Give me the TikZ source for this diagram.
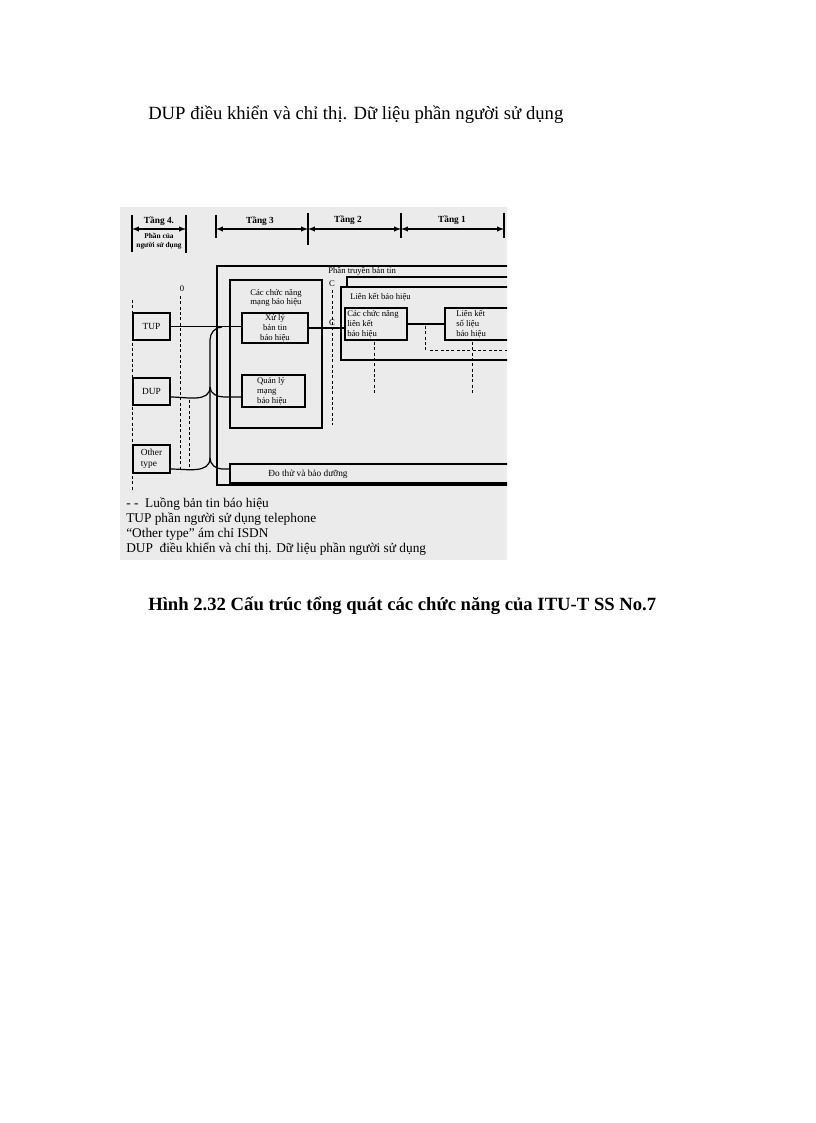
\documentclass[tikz,border=0pt]{standalone}
\usepackage{fontspec}
\setmainfont{Liberation Serif}
\usetikzlibrary{arrows,calc,fit}
\tikzset{blk/.style={draw, line width=0.9pt, inner sep=0pt},
  lbl/.style={inner sep=0pt, align=left, font=\fontsize{6.5}{7.3}\selectfont},
  userlbl/.style={inner sep=0pt, align=left, font=\fontsize{7}{8}\selectfont},
  tierlbl/.style={inner sep=0pt, font=\bfseries\fontsize{7}{8}\selectfont},
  legend/.style={anchor=base west, inner sep=0pt, font=\fontsize{10}{11}\selectfont},
  flow/.style={line width=0.5pt, dash pattern=on 2.2pt off 1.8pt},
  wire/.style={line width=0.9pt},
  tier/.style={line width=0.8pt}}

\begin{document}
\begin{tikzpicture}[x=0.75pt,y=-0.75pt,>=latex]
\useasboundingbox (0,0) rectangle (816,1123);
\node[anchor=base west, inner sep=0pt, font=\fontsize{14}{16}\selectfont] (intro) at (148,120) {DUP điều khiển và chỉ thị. Dữ liệu phần người sử dụng};

% scanned figure
\fill[black!8] (120,207) rectangle (507,560);
\begin{scope}
\clip (120,207) rectangle (507,560);
% tiers
\draw[tier] (132,215) -- (132,252);
\draw[tier] (186,215) -- (186,253);
\draw[tier] (216,215) -- (216,238);
\draw[tier] (308,213) -- (308,245);
\draw[tier] (401,213) -- (401,238);
\draw[tier] (504,213) -- (504,238);
\coordinate (t4l) at (132,229);
\coordinate (t4r) at (186,229);
\coordinate (t3l) at (216,229);
\coordinate (t3r) at (308,229);
\coordinate (t2r) at (401,229);
\coordinate (t1r) at (504,229);
\draw[tier,<->] (t4l) -- (t4r);
\draw[tier,<->] (t3l) -- (t3r);
\draw[tier,<->] (t3r) -- (t2r);
\draw[tier,<->] (t2r) -- (t1r);
\node[tierlbl] (tang4) at (159,221) {Tầng 4.};
\node[tierlbl] (tang3) at (260,221) {Tầng 3};
\node[tierlbl] (tang2) at (348,220) {Tầng 2};
\node[tierlbl] (tang1) at (452,220) {Tầng 1};
\node[tierlbl, align=center, font=\bfseries\fontsize{5.5}{7}\selectfont] (nsd) at (159,241) {Phần của\\người sử dụng};

% message transfer part
\draw[wire] (520,266) -- (217,266) -- (217,485) -- (520,485);
\node[lbl, anchor=west] (mtp) at (328,271) {Phần truyền bản tin};
\draw[wire] (347,287) -- (347,277) -- (520,277);
\node[blk, fit={(341,287) (520,360)}] (lkbh) {};
\node[lbl, anchor=west] (lkbhlbl) at (350,297) {Liên kết báo hiệu};
\node[blk, fit={(345,308) (407,340)}] (cnlk) {};
\node[lbl, anchor=west] at (347,324) {Các chức năng\\liên kết\\báo hiệu};
\node[blk, fit={(445,308) (520,340)}] (lkso) {};
\node[lbl, anchor=west] at (456,324) {Liên kết\\số liệu\\báo hiệu};

% signalling network functions
\node[blk, fit={(230,280) (322,428)}] (cnmang) {};
\node[lbl, align=center] (cnmanglbl) at (276,298) {Các chức năng\\mạng báo hiệu};
\node[blk, fit={(242,313) (308,343)}] (xuly) {};
\node[lbl, align=center] at (xuly.center) {Xử lý\\bản tin\\báo hiệu};
\node[blk, fit={(242,375) (305,407)}] (qlmang) {};
\node[lbl] at (272,391) {Quản lý\\mạng\\báo hiệu};
\node[blk, fit={(230,464) (520,483)}] (dothu) {};
\node[lbl, anchor=west, font=\fontsize{7}{8}\selectfont] at (268,474) {Đo thử và bảo dưỡng};
\node[lbl] (c1) at (332,284) {C};
\node[lbl] (c2) at (332,323) {C};

% user parts
\node[blk, fit={(133,313) (170,340)}] (tup) {};
\node[userlbl] at (tup.center) {TUP};
\node[blk, fit={(133,378) (170,405)}] (dup) {};
\node[userlbl] at (dup.center) {DUP};
\node[blk, fit={(133,445) (170,473)}] (other) {};
\node[userlbl] at (other.center) {Other\\type};

% flows
\draw[flow] (132,300) -- (132,492);
\node[lbl] (zero) at (182,289) {0};
\draw[flow] (180,296) -- (180,472);
\draw[flow] (189,400) -- (189,470);
\draw[flow] (332,290) -- (332,425);
\draw[flow] (374,342) -- (374,395);
\draw[flow] (425,326) -- (425,352);
\draw[flow] (472,342) -- (472,395);
\draw[flow] (430,350) -- (507,350);

% connectors
\coordinate (bus1) at (210,340);
\coordinate (bus2) at (210,387);
\coordinate (bus3) at (210,458);
\coordinate (bend1) at (222,327);
\coordinate (bend2) at (224,397);
\coordinate (bend3) at (222,469);
\draw[wire] (tup.east) -- (tup.east -| xuly.west);
\draw[wire] (xuly.east) -- (xuly.east -| cnlk.west);
\draw[wire] (cnlk.east) -- (cnlk.east -| lkso.west);
\draw[wire] (bend1) to[out=180,in=90] (bus1) -- (bus3);
\draw[wire] (dup.east |- bend2) to[out=0,in=-90] (bus2);
\draw[wire] (bus2) to[out=-90,in=180] (bend2) -- (bend2 -| qlmang.west);
\draw[wire] (other.east |- bend3) to[out=0,in=-90] (bus3);
\draw[wire] (bus3) to[out=-90,in=180] (bend3) -- (bend3 -| dothu.west);

% legend
\node[legend] (leg1) at (126,507) {- -\enspace Luồng bản tin báo hiệu};
\node[legend] (leg2) at (126,522) {TUP phần người sử dụng telephone};
\node[legend] (leg3) at (126,537) {“Other type” ám chỉ ISDN};
\node[legend] (leg4) at (126,552) {DUP\enspace điều khiển và chỉ thị. Dữ liệu phần người sử dụng};
\end{scope}

\node[anchor=base west, inner sep=0pt, font=\bfseries\fontsize{14}{16}\selectfont] (caption) at (148,610) {Hình 2.32 Cấu trúc tổng quát các chức năng của ITU-T SS No.7};
\end{tikzpicture}
\end{document}
